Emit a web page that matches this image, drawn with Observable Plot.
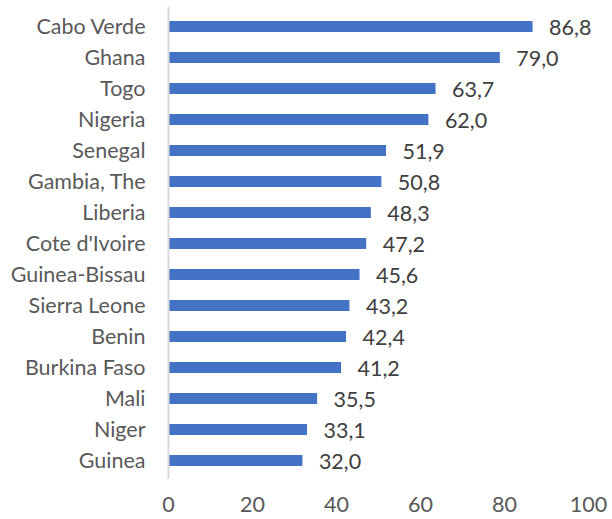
<!DOCTYPE html>
<html>
<head>
<meta charset="utf-8">
<script src="https://cdn.jsdelivr.net/npm/d3@7"></script>
<script src="https://cdn.jsdelivr.net/npm/@observablehq/plot@0.6"></script>
<style>
  html, body { margin: 0; padding: 0; background: #fff; }
  #chart svg { display: block; }
</style>
</head>
<body>
<div id="chart"></div>
<script>
const countries = ["Cabo Verde", "Ghana", "Togo", "Nigeria", "Senegal", "Gambia, The", "Liberia", "Cote d'Ivoire", "Guinea-Bissau", "Sierra Leone", "Benin", "Burkina Faso", "Mali", "Niger", "Guinea"];
const values = [86.8, 79.0, 63.7, 62.0, 51.9, 50.8, 48.3, 47.2, 45.6, 43.2, 42.4, 41.2, 35.5, 33.1, 32.0];
const xTicks = [0, 20, 40, 60, 80, 100];

const data = countries.map((c, i) => ({country: c, value: values[i]}));
const fmt = v => v.toFixed(1).replace(".", ",");

const chart = Plot.plot({
  width: 612,
  height: 519,
  marginLeft: 168,
  marginRight: 24,
  marginTop: 7,
  marginBottom: 40,
  style: {fontFamily: "Lato, sans-serif", fontSize: "21.5px", color: "#595959", background: "#fff"},
  x: {domain: [0, 100], ticks: xTicks, tickSize: 0, tickPadding: 17, label: null},
  y: {domain: countries, paddingInner: 0.65, paddingOuter: 0.325, tickSize: 0, tickPadding: 23, label: null},
  marks: [
    Plot.barX(data, {x: "value", y: "country", fill: "#4472C4"}),
    Plot.ruleX([0], {stroke: "#d9d9d9", strokeWidth: 2}),
    Plot.text(data, {x: "value", y: "country", text: d => fmt(d.value), textAnchor: "start", dx: 16, dy: 1.5, fill: "#404040", fontSize: 21.5})
  ]
});
document.getElementById("chart").appendChild(chart);
</script>
</body>
</html>
